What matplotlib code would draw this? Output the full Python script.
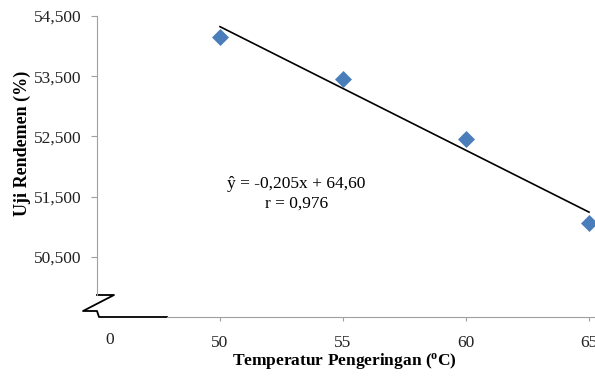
import matplotlib.pyplot as plt
import numpy as np

plt.rcParams['font.family'] = ['Liberation Serif', 'DejaVu Serif']
plt.rcParams['mathtext.fontset'] = 'custom'
plt.rcParams['mathtext.rm'] = 'Liberation Serif'
plt.rcParams['mathtext.bf'] = 'Liberation Serif:bold'

suhu = [50, 55, 60, 65]
rendemen = [54.15, 53.46, 52.46, 51.06]
yticks = [50.5, 51.5, 52.5, 53.5, 54.5]
xticks = [50, 55, 60, 65]

fig = plt.figure(figsize=(5.95, 3.78), dpi=100)
ax = fig.add_axes([97 / 595, 61 / 378, 498 / 595, 301 / 378])

ax.scatter(suhu, rendemen, marker='D', s=75, color='#4a7ebb', zorder=3, linewidths=0)

# garis regresi
b, a = np.polyfit(suhu, rendemen, 1)
xs = np.array([suhu[0], suhu[-1]])
ax.plot(xs, a + b * xs, color='black', lw=1.2, zorder=2)

ax.set_xlim(45, 45 + 498 / 24.6)
ax.set_ylim(49.5, 54.5)

for s in ['top', 'right']:
    ax.spines[s].set_visible(False)
ax.spines['left'].set_color('#a0a0a0')
ax.spines['left'].set_bounds(49.5 + 22 / 60, 54.5)
ax.spines['bottom'].set_color('#a0a0a0')
ax.spines['bottom'].set_bounds(47.85, 65.2)

ax.set_yticks(yticks)
ax.set_yticklabels([f'{v:.3f}'.replace('.', ',') for v in yticks])
ax.set_xticks(xticks)
ax.tick_params(axis='y', length=4.5, color='#a0a0a0', pad=6.5, labelsize=12.5, labelcolor='#222222')
ax.tick_params(axis='x', length=3, color='#a0a0a0', pad=10, labelsize=12.5, labelcolor='#222222')

# label "0" dan patahan sumbu
ax.text(45.5, -0.077, '0', transform=ax.get_xaxis_transform(), ha='center', va='center',
        fontsize=12.5, color='#222222')
def px(x, y):
    return (x - 97) / 498, (317 - y) / 301
zz = [px(97, 295), px(114, 295), px(83, 311), px(97, 311), px(99, 317), px(167, 317)]
ax.plot([p[0] for p in zz], [p[1] for p in zz], color='black', lw=1.3,
        transform=ax.transAxes, clip_on=False)

ax.text(53.1, 54.5 - (183 - 16) / 60, 'ŷ = -0,205x + 64,60', ha='center', va='center', fontsize=12.5)
ax.text(53.1, 54.5 - (203 - 16) / 60, 'r = 0,976', ha='center', va='center', fontsize=12.5)

ax.set_ylabel('Uji Rendemen (%)', fontsize=13, fontweight='bold')
ax.yaxis.set_label_coords((31 - 97) / 498, (317 - 143) / 301)
ax.set_xlabel(r'Temperatur Pengeringan ($\mathbf{^{o}}$C)', fontsize=12.5, fontweight='bold')
ax.xaxis.set_label_coords((344 - 97) / 498, (317 - 351) / 301)

fig.savefig('out.png', dpi=100)
